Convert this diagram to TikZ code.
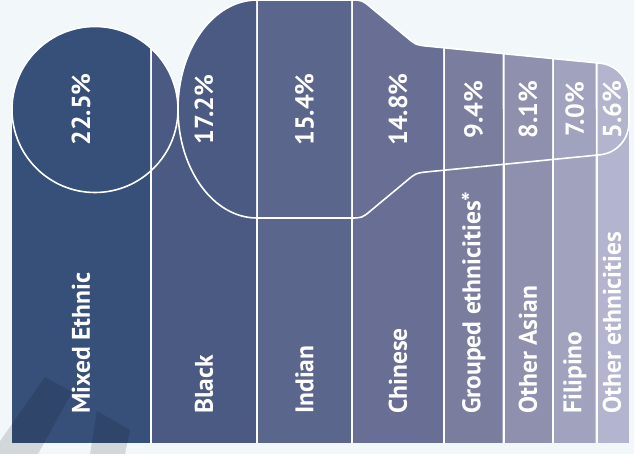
\documentclass[tikz,border=0pt]{standalone}
\usepackage{fontspec}
\setmainfont{PT Sans}
\definecolor{bgc}{HTML}{F2F7FA}
\definecolor{cA}{HTML}{36507A}
\definecolor{cB}{HTML}{4A5A82}
\definecolor{cC}{HTML}{5A668C}
\definecolor{cD}{HTML}{686E94}
\definecolor{cE}{HTML}{7A7D9E}
\definecolor{cF}{HTML}{8E90AE}
\definecolor{cG}{HTML}{A1A2BD}
\definecolor{cH}{HTML}{B3B4CE}
\newcommand\myBottle{(178,109) .. controls (178,48.8) and (213.4,0) .. (257,0)
  -- (350,0) .. controls (362,0) .. (371.2,7.7)
  -- (406.8,37.3) .. controls (416,45) .. (427.9,46.2)
  -- (598,63) .. controls (616,64) and (629,78) .. (629,96)
  -- (629,122) .. controls (629,140) and (616,154) .. (598,155)
  -- (427.9,171.8) .. controls (416,173) .. (406.8,180.7)
  -- (371.2,210.3) .. controls (362,218) .. (350,218)
  -- (257,218) .. controls (213.4,218) and (178,169.2) .. (178,109) -- cycle}
\newcommand\myCircle{(95,109.5) circle[radius=83]}
\tikzset{
  lbl/.style={text=white, font=\bfseries\fontsize{25.5}{27}\selectfont, rotate=90, anchor=west, inner sep=0pt},
  pct/.style={text=white, font=\bfseries\fontsize{26}{28}\selectfont, rotate=90, anchor=center, inner sep=0pt},
  outline/.style={draw=white, line width=1.6pt},
  mark stripe/.style={fill=black, fill opacity=0.13}
}
\begin{document}
\begin{tikzpicture}[x=1pt,y=-1pt]
\fill[bgc] (0,0) rectangle (634,454);
\useasboundingbox (0,0) rectangle (634,454);
% white base (shows as dividers)
\fill[white] (12,109) rectangle (629,443);
\fill[white] \myCircle;
\fill[white] \myBottle;
% columns
\foreach \xl/\xr/\c in {12/150/cA, 152/256/cB, 258/351/cC, 353/443/cD, 445/502.5/cE, 504.5/552/cF, 554/595.5/cG, 597.5/629/cH}{
  \begin{scope}
    \clip (\xl,0) rectangle (\xr,443);
    \fill[\c] (\xl,109) rectangle (\xr,443);
    \fill[\c] \myCircle;
    \fill[\c] \myBottle;
  \end{scope}
}
% outlines
\draw[outline] \myCircle;
\draw[outline] \myBottle;
% watermark
\begin{scope}
  \clip (0,0) rectangle (634,454);
  \fill[mark stripe] (45,377) -- (72,392) -- (38,454) -- (-9,454) -- cycle;
  \fill[mark stripe] (97,411) -- (130,430) -- (125,454) -- (90,454) -- cycle;
\end{scope}
% labels
\node[lbl] (l1) at (81,414) {Mixed Ethnic};
\node[lbl] (l2) at (204,414) {Black};
\node[lbl] (l3) at (304.5,414) {Indian};
\node[lbl] (l4) at (398,414) {Chinese};
\node[lbl] (l5) at (473.5,414) {Grouped ethnicities*};
\node[lbl] (l6) at (528,414) {Other Asian};
\node[lbl] (l7) at (574.75,414) {Filipino};
\node[lbl] (l8) at (612,414) {Other ethnicities};
% percentages
\node[pct] (p1) at (81,109.5) {22.5\%};
\node[pct] (p2) at (204,109.5) {17.2\%};
\node[pct] (p3) at (304.5,109.5) {15.4\%};
\node[pct] (p4) at (398,109.5) {14.8\%};
\node[pct] (p5) at (473.5,109.5) {9.4\%};
\node[pct] (p6) at (528,109.5) {8.1\%};
\node[pct] (p7) at (574.75,109.5) {7.0\%};
\node[pct] (p8) at (612,109.5) {5.6\%};
\end{tikzpicture}
\end{document}
